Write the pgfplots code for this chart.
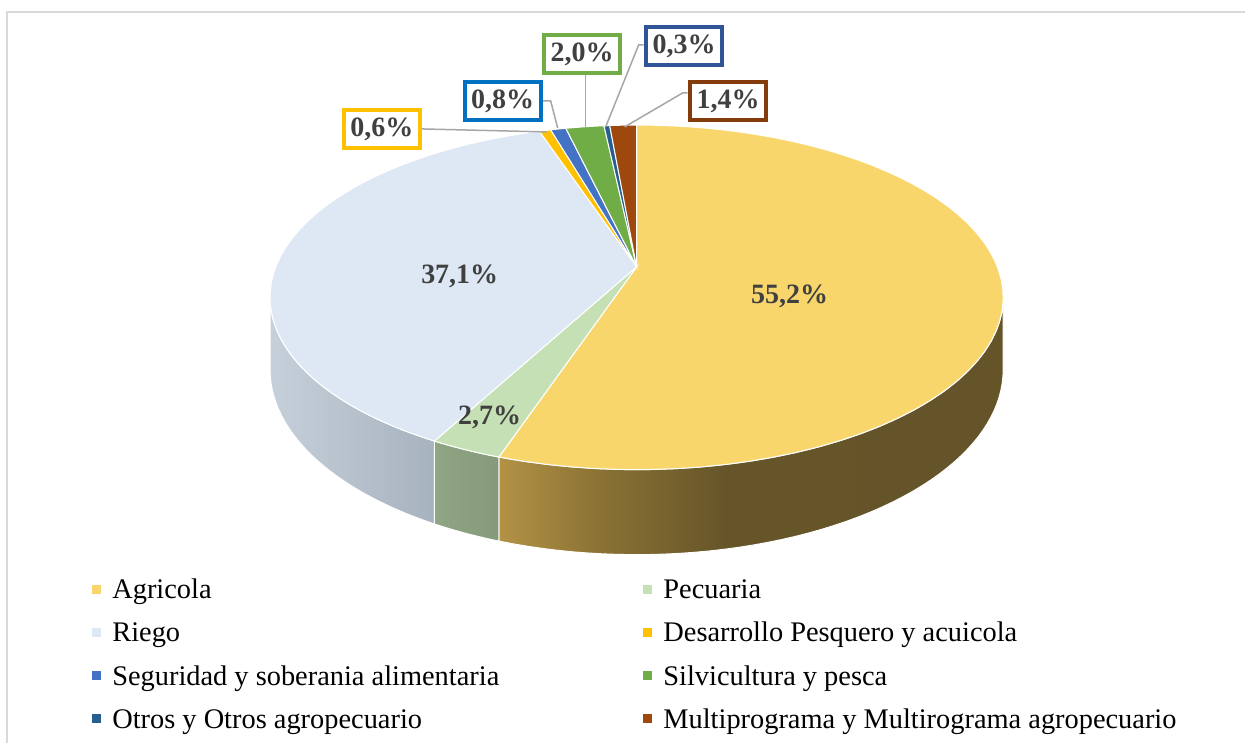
\documentclass[border=0pt]{standalone}
\usepackage{pgfplots}
\pgfplotsset{compat=1.18}
\usepackage{pgfplotstable}
\usepackage{fontspec}
\setmainfont{Liberation Serif}

% slice colours (top faces)
\definecolor{top0}{HTML}{F9D66B}
\definecolor{top1}{HTML}{C5E0B4}
\definecolor{top2}{HTML}{DDE8F4}
\definecolor{top3}{HTML}{FFC000}
\definecolor{top4}{HTML}{4472C4}
\definecolor{top5}{HTML}{70AD47}
\definecolor{top6}{HTML}{255E91}
\definecolor{top7}{HTML}{9E480E}
% side faces
\definecolor{agrA}{HTML}{B39246}
\definecolor{agrB}{HTML}{8A7234}
\definecolor{agrC}{HTML}{665529}
\definecolor{agrD}{HTML}{635328}
\definecolor{pecL}{HTML}{8FA583}
\definecolor{pecR}{HTML}{869A7A}
\definecolor{rieL}{HTML}{C6D0DA}
\definecolor{rieR}{HTML}{A6B2BE}
\definecolor{lbl}{HTML}{404040}
\definecolor{lead}{HTML}{A6A6A6}
\definecolor{frame}{HTML}{D9D9D9}
\definecolor{b3}{HTML}{FFC000}
\definecolor{b4}{HTML}{0070C0}
\definecolor{b5}{HTML}{70AD47}
\definecolor{b6}{HTML}{2F5597}
\definecolor{b7}{HTML}{843C0C}

\pgfdeclarehorizontalshading{agrside}{100bp}{color(0bp)=(agrA); color(25bp)=(agrA);
  color(35bp)=(agrB); color(47.5bp)=(agrC); color(100bp)=(agrD)}

\tikzset{
  side0/.style={shade, shading=agrside},
  side1/.style={left color=pecL, right color=pecR},
  side2/.style={left color=rieL, right color=rieR},
  side3/.style={fill=top3}, side4/.style={fill=top4}, side5/.style={fill=top5},
  side6/.style={fill=top6}, side7/.style={fill=top7},
}

\pgfplotstableread[col sep=comma]{
label,pct
Agricola,55.2
Pecuaria,2.7
Riego,37.1
Desarrollo Pesquero y acuicola,0.6
Seguridad y soberania alimentaria,0.8
Silvicultura y pesca,2.0
Otros y Otros agropecuario,0.3
Multiprograma y Multirograma agropecuario,1.4
}\piedata

\begin{document}
\begin{tikzpicture}[declare function={
    px(\u)=637+361*sin(\u)/(1+0.177*cos(\u));
    py(\u)=267-167*cos(\u)/(1+0.177*cos(\u));
    pyb(\u)=py(\u)+70/(1+0.177*cos(\u));
  }]
% cumulative starts of the slices
\def\cum{0}
\pgfplotsforeachungrouped \i in {0,...,7}{%
  \pgfplotstablegetelem{\i}{pct}\of\piedata
  \expandafter\xdef\csname st\i\endcsname{\cum}%
  \pgfmathsetmacro\cum{\cum+\pgfplotsretval}%
}
\expandafter\xdef\csname st8\endcsname{\cum}
\xdef\total{\cum}

\begin{axis}[
  scale only axis, width=623pt, height=371.5pt,
  xmin=0, xmax=1246, ymin=0, ymax=743, y dir=reverse,
  hide axis, clip=false,
  legend columns=2, legend cell align=left,
  legend image code/.code={\fill[#1, draw=none] (0pt,-1.5pt) rectangle (4.5pt,3pt); \path (10pt,0pt);},
  legend style={draw=none, fill=none, inner sep=0pt, outer sep=0pt,
    at={(axis cs:92,579)}, anchor=north west,
    font=\fontsize{14.2}{17}\selectfont, row sep=9.65pt,
    nodes={inner sep=0pt, text height=10pt, text depth=2pt}},
]
\path (axis cs:0,0) rectangle (axis cs:1246,743);

\pgfplotsinvokeforeach{0,...,7}{%
  \addlegendimage{fill=top#1}
  \pgfplotstablegetelem{#1}{label}\of\piedata
  \ifodd#1
    \addlegendentryexpanded{\pgfplotsretval}
  \else
    \addlegendentryexpanded{\noexpand\makebox[265.5pt][l]{\pgfplotsretval}}
  \fi
}

\pgfplotsextra{
  % chart frame
  \draw[frame, line width=0.75pt] (7,743) -- (7,12) -- (1246,12);
  % side faces (front half only)
  \foreach \i in {0,...,7}{
    \pgfmathtruncatemacro\j{\i+1}
    \pgfmathsetmacro\sa{max(\csname st\i\endcsname/\total*360,100.2)}
    \pgfmathsetmacro\sb{min(\csname st\j\endcsname/\total*360,259.8)}
    \ifdim\sa pt<\sb pt
      \path[side\i, draw=white, line width=0.5pt]
        plot[domain=\sa:\sb, samples=50, variable=\u] ({px(\u)},{py(\u)})
        -- plot[domain=\sb:\sa, samples=50, variable=\u] ({px(\u)},{pyb(\u)}) -- cycle;
    \fi
  }
  % top faces
  \foreach \i in {0,...,7}{
    \pgfmathtruncatemacro\j{\i+1}
    \pgfmathsetmacro\sa{\csname st\i\endcsname/\total*360}
    \pgfmathsetmacro\sb{\csname st\j\endcsname/\total*360}
    \fill[top\i, draw=white, line width=0.5pt] (637,267)
      -- plot[domain=\sa:\sb, samples=60, variable=\u] ({px(\u)},{py(\u)}) -- cycle;
  }
  % inner labels
  \begin{scope}[every node/.style={font=\fontsize{14}{16}\selectfont\bfseries, text=lbl}]
    \node at (790,297) {55,2\%};
    \node at (460,277) {37,1\%};
    \node at (490,418) {2,7\%};
  \end{scope}
  % leader lines
  \begin{scope}[lead, line width=0.75pt]
    \draw (422,129) -- (547,132);
    \draw (543,101) -- (551,101) -- (558,128);
    \draw (586,75) -- (586,127);
    \draw (644,45) -- (639,45) -- (606,127);
    \draw (688,93) -- (683,93) -- (625,127);
  \end{scope}
  % callout boxes
  \begin{scope}[every node/.style={font=\fontsize{14}{16}\selectfont\bfseries, text=lbl,
      fill=white, line width=2pt, minimum width=38pt, minimum height=19pt, inner sep=0pt}]
    \node[draw=b3] at (382,129) {0,6\%};
    \node[draw=b4] at (503,101) {0,8\%};
    \node[draw=b5] at (582.5,54) {2,0\%};
    \node[draw=b6] at (684.5,46) {0,3\%};
    \node[draw=b7] at (728.5,101.5) {1,4\%};
  \end{scope}
}
\end{axis}
\end{tikzpicture}
\end{document}
